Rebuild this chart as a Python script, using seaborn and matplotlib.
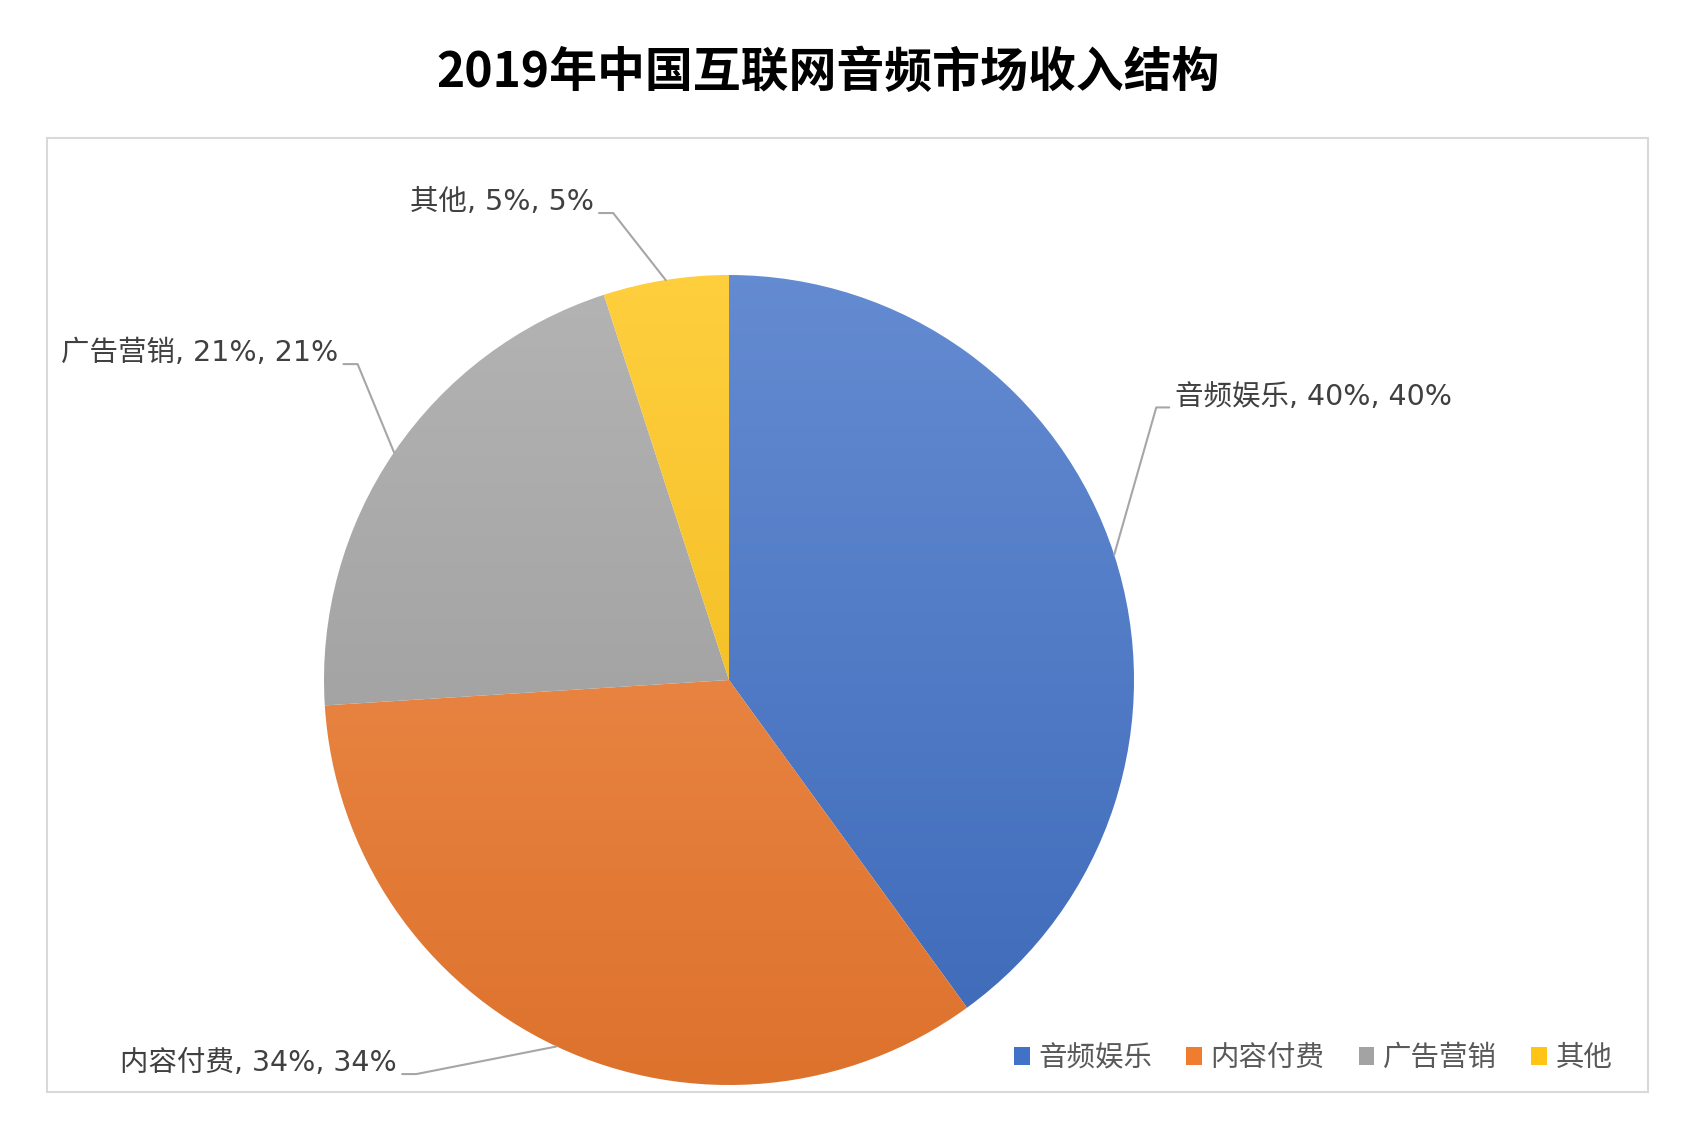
import matplotlib.pyplot as plt
import matplotlib.colors as mcolors
from matplotlib.patches import Patch, Rectangle
import numpy as np
import seaborn as sns

title = '2019年中国互联网音频市场收入结构'
categories = ['音频娱乐', '内容付费', '广告营销', '其他']
shares = [40, 34, 21, 5]
base_colors = ['#4272C8', '#F07C30', '#A3A3A3', '#FFC414']
# label anchor (x, y) in pie-radius units, and which side the text sits on
label_pos = [(1.10, 0.70), (-0.82, -0.946), (-0.965, 0.807), (-0.334, 1.18)]
label_side = ['left', 'right', 'right', 'right']

sns.set_theme(style='white')
plt.rcParams['font.family'] = ['Noto Sans CJK SC', 'DejaVu Sans']
label_font = ['DejaVu Sans', 'Noto Sans CJK SC']

W, H, dpi = 1692, 1148, 100
fig = plt.figure(figsize=(W / dpi, H / dpi), dpi=dpi)
ax = fig.add_axes([0, 0, 1, 1])
px = 405.0  # pixels per pie-radius
cx, cy = 729, 680


def set_lims():
    ax.set_xlim(-cx / px, (W - cx) / px)
    ax.set_ylim(-(H - cy) / px, cy / px)


ax.axis('off')

# outer frame
fig.patches.append(Rectangle((47 / W, 56 / H), 1601 / W, 954 / H, transform=fig.transFigure,
                             fill=False, edgecolor='#D9D9D9', linewidth=1.5, zorder=0))

wedges, _ = ax.pie(shares, colors=base_colors, startangle=90, counterclock=False,
                   radius=1, center=(0, 0), wedgeprops=dict(linewidth=0))
set_lims()

# vertical gradient fill clipped to each wedge
for w, c in zip(wedges, base_colors):
    rgb = np.array(mcolors.to_rgb(c))
    top = rgb + (1 - rgb) * 0.18
    bot = rgb * 0.92
    t = np.linspace(0, 1, 256)[:, None]
    grad = top[None, :] * (1 - t) + bot[None, :] * t
    img = np.repeat(grad[:, None, :], 2, axis=1)
    im = ax.imshow(img, extent=(-1, 1, -1, 1), origin='upper', aspect='auto', zorder=2)
    im.set_clip_path(w)
    w.set_facecolor('none')
set_lims()

# labels with leader lines
cum = np.cumsum([0] + shares)
for i, (name, v) in enumerate(zip(categories, shares)):
    mid = np.deg2rad(90 - (cum[i] + v / 2) / 100 * 360)
    ex, ey = np.cos(mid), np.sin(mid)
    tx, ty = label_pos[i]
    if label_side[i] == 'left':
        elbow = (tx - 0.013, ty - 0.027)
        hstart = (elbow[0] - 0.032, elbow[1])
        ax.plot([ex, hstart[0], elbow[0]], [ey, hstart[1], elbow[1]], color='#A6A6A6', lw=1.5, zorder=3)
        ax.text(tx, ty, f'{name}, {v}%, {v}%', ha='left', va='center', fontsize=20.5,
                color='#404040', family=label_font)
    else:
        elbow = (tx + 0.013, ty - 0.027)
        hend = (elbow[0] + 0.035, elbow[1])
        ax.plot([elbow[0], hend[0], ex], [elbow[1], hend[1], ey], color='#A6A6A6', lw=1.5, zorder=3)
        ax.text(tx, ty, f'{name}, {v}%, {v}%', ha='right', va='center', fontsize=20.5,
                color='#404040', family=label_font)
set_lims()

fig.text(828 / W, 1 - 72 / H, title, ha='center', va='center', fontsize=34.5, fontweight='bold', color='black')

handles = [Patch(facecolor=c, edgecolor='none', label=n) for n, c in zip(categories, base_colors)]
fig.legend(handles=handles, loc='center right', bbox_to_anchor=(1638 / W, 1 - 1058 / H), ncol=4,
           frameon=False, fontsize=20.5, handlelength=0.55, handleheight=0.55, handletextpad=0.3,
           columnspacing=1.2, labelcolor='#595959')

fig.savefig('out.png', dpi=dpi)
